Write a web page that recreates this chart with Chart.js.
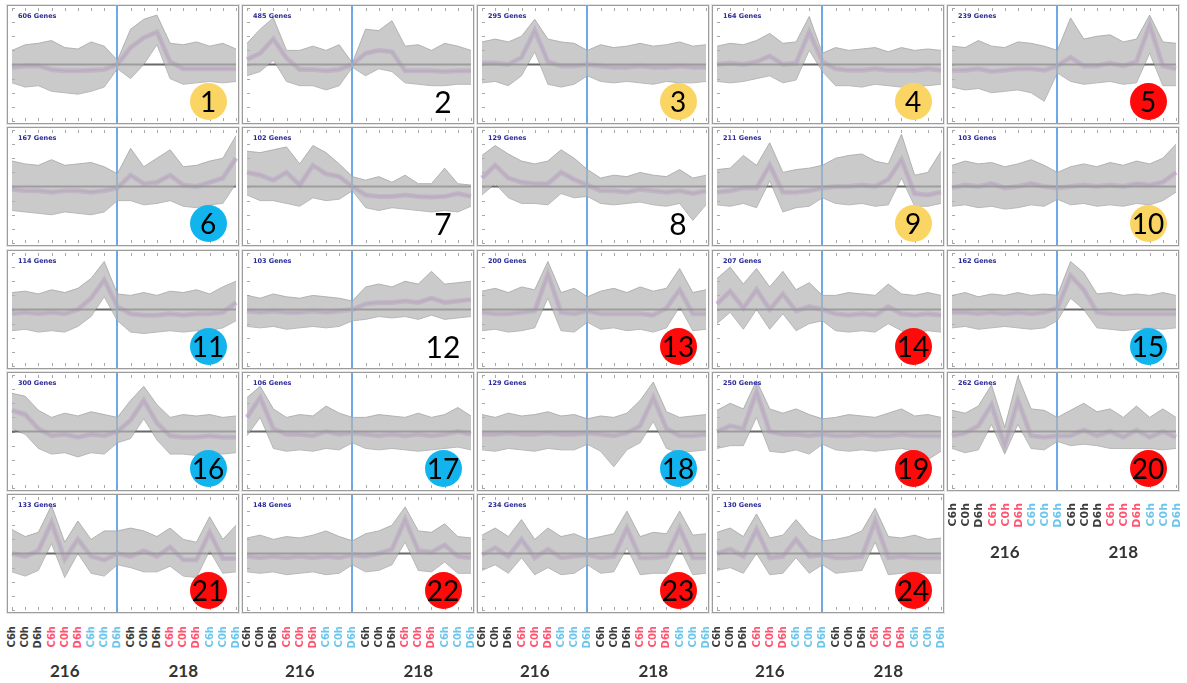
<!DOCTYPE html>
<html><head><meta charset="utf-8">
<script src="https://cdn.jsdelivr.net/npm/chart.js@4.4.1/dist/chart.umd.min.js"></script>
<style>
html,body{margin:0;padding:0;background:#fff;}
#root{position:relative;width:1187px;height:683px;overflow:hidden;background:#fff;}
.panel{position:absolute;border:1px solid #9c9c9c;box-shadow:0 0 0 1px #e4e4e4;background:#fff;}
.panel canvas{display:block;}
.badge{position:absolute;width:37px;height:37px;border-radius:50%;display:flex;align-items:center;justify-content:center;font-family:Lato,'Liberation Sans',sans-serif;font-size:28px;color:#000;line-height:1;}
.lbl{position:absolute;writing-mode:vertical-rl;transform:translateX(-50%) rotate(180deg);font-family:'DejaVu Sans',sans-serif;font-weight:bold;white-space:nowrap;line-height:1;}
.cult{position:absolute;transform:translateX(-50%);font-family:Lato,'Liberation Sans',sans-serif;font-weight:bold;font-size:17px;color:#333;}
</style></head><body><div id="root"></div>
<script>
// ---------------- DATA ----------------
const clusterIds = [1,2,3,4,5,6,7,8,9,10,11,12,13,14,15,16,17,18,19,20,21,22,23,24];
const geneCounts = [606,485,295,164,239,167,102,129,211,103,114,103,200,207,162,300,106,129,250,262,133,148,234,130];
const clusterClass = ['Y','-','Y','Y','R','B','-','-','Y','Y','B','-','R','R','B','B','B','B','R','R','R','R','R','R'];
const sampleLabels = ['C6h','C0h','D6h','C6h','C0h','D6h','C6h','C0h','D6h','C6h','C0h','D6h','C6h','C0h','D6h','C6h','C0h','D6h'];
const sampleGroup = [0,0,0,1,1,1,2,2,2,0,0,0,1,1,1,2,2,2];
const cultivars = ['216','218'];
const cultivarCenter = [4, 13];
const splitAt = 8;
const yTicks = [-4,-3,-2,-1,0,1,2,3,4];

const meanProfiles = [
 [-0.2,-0.1,-0.1,-0.35,-0.45,-0.45,-0.4,-0.35,0,1.2,1.9,2.3,0.2,-0.3,-0.3,-0.3,-0.3,-0.3],
 [0.35,0.8,1.8,0.45,-0.35,-0.35,-0.45,-0.35,0,0.8,1.0,0.9,-0.45,-0.45,-0.45,-0.5,-0.45,-0.45],
 [0.1,0.1,0,0.5,2.4,0.2,-0.1,-0.1,0,-0.1,-0.2,-0.2,-0.1,-0.2,-0.2,-0.1,-0.2,-0.2],
 [0,0.1,0,0.2,0.6,0,0.1,2.3,0.2,-0.3,-0.4,-0.4,-0.3,-0.4,-0.4,-0.4,-0.3,-0.4],
 [-0.4,-0.4,-0.3,-0.5,-0.4,-0.3,-0.3,-0.4,-0.1,0.5,-0.1,-0.1,0.1,-0.1,0.2,2.8,-0.1,-0.3],
 [-0.2,-0.3,-0.3,-0.4,-0.3,-0.3,-0.4,-0.3,-0.1,0.8,0.2,0.3,0.8,0.1,0.0,0.3,0.6,2.0],
 [1.0,0.8,0.45,1.0,0.1,1.5,0.9,0.7,0,-0.6,-0.7,-0.7,-0.6,-0.7,-0.75,-0.7,-0.5,-0.7],
 [0.6,1.5,0.6,0.3,0.2,0.2,1.0,0.5,0.1,-0.3,-0.3,-0.4,-0.2,-0.3,-0.4,-0.3,-0.5,-0.3],
 [-0.4,-0.3,-0.1,-0.1,1.5,-0.4,-0.4,-0.3,-0.1,0.0,0.0,0.1,0.0,0.5,1.9,-0.5,-0.6,-0.4],
 [-0.1,0.1,0,0.2,-0.1,0,0.2,0,-0.1,0,0.1,0,0.1,0,0.2,0.1,0.3,1.0],
 [-0.3,-0.2,-0.3,-0.2,-0.3,0,0.8,2.1,0.2,-0.3,-0.4,-0.4,-0.3,-0.4,-0.3,-0.3,-0.2,0.5],
 [-0.1,-0.2,-0.1,-0.2,-0.2,-0.1,-0.2,-0.1,0,0.4,0.5,0.5,0.6,0.5,0.8,0.5,0.6,0.7],
 [-0.2,-0.3,-0.3,-0.2,-0.1,2.5,-0.2,-0.3,-0.1,-0.3,-0.3,-0.3,-0.3,-0.4,0.1,1.4,-0.3,-0.3],
 [0.4,1.3,0.1,1.4,0.0,1.1,-0.1,0.2,0.0,-0.3,-0.4,-0.3,-0.4,0.2,-0.3,-0.4,-0.3,-0.4],
 [-0.2,-0.2,-0.3,-0.2,-0.3,-0.2,-0.3,-0.2,0.1,2.4,1.4,-0.2,-0.3,-0.3,-0.3,-0.3,-0.3,-0.3],
 [1.5,1.2,0.2,-0.3,-0.2,-0.4,-0.2,-0.3,0,0.8,2.2,0.6,-0.3,-0.4,-0.4,-0.3,-0.4,-0.4],
 [1.0,2.4,0.2,-0.2,-0.2,-0.3,0.0,-0.2,-0.1,-0.2,-0.3,-0.2,-0.3,-0.2,-0.3,-0.2,0.0,-0.2],
 [-0.2,-0.2,-0.1,-0.2,-0.2,-0.1,-0.2,-0.2,-0.1,-0.2,-0.3,-0.1,0.4,2.4,0.2,-0.3,-0.3,-0.2],
 [0.0,0.4,0.2,2.8,0.0,-0.2,-0.2,-0.3,-0.2,-0.3,-0.3,-0.2,-0.3,-0.3,-0.2,-0.3,-0.3,-0.3],
 [-0.3,-0.1,0.4,1.9,-1.0,2.2,-0.3,-0.4,-0.3,-0.3,0.1,-0.3,0.0,-0.4,0.1,-0.4,0.0,-0.4],
 [0.0,-0.2,0.2,2.2,-0.4,1.0,-0.2,-0.45,0.0,-0.2,0.2,-0.2,0.45,-0.45,-0.45,1.5,-0.35,-0.35],
 [-0.2,-0.3,-0.2,-0.3,-0.2,-0.3,-0.2,-0.3,-0.1,-0.2,0.0,0.3,2.4,0.2,0.1,0.6,-0.2,-0.3],
 [-0.1,0.4,-0.2,1.0,-0.3,0.3,-0.3,-0.2,-0.1,-0.3,-0.2,1.8,-0.3,-0.3,-0.2,1.8,-0.3,-0.3],
 [0.0,0.3,-0.2,1.7,-0.3,-0.2,1.0,-0.2,-0.1,-0.3,-0.3,-0.2,2.3,-0.3,-0.2,-0.3,-0.3,-0.3]
];
const upperProfiles = [
 [1.0,1.4,1.5,1.7,1.2,1.1,1.6,1.3,0.3,2.5,3.2,3.5,1.5,1.4,1.6,1.3,1.5,1.1],
 [1.5,2.5,3.3,1.0,1.0,1.3,1.0,1.4,0.1,2.5,2.4,3.1,1.3,1.4,1.0,1.5,1.3,1.0],
 [1.6,1.8,1.6,2.0,3.2,1.8,1.6,1.5,1.0,1.4,1.2,1.3,1.5,1.3,1.4,1.6,1.3,1.4],
 [1.3,1.5,1.4,1.7,2.2,1.5,1.6,3.4,0.8,1.2,1.0,1.1,1.2,0.9,1.2,1.0,1.1,1.0],
 [1.3,1.2,1.7,1.3,1.2,1.6,1.5,1.3,1.0,3.3,1.8,2.0,2.1,1.6,1.8,3.5,1.6,1.5],
 [1.8,1.6,1.5,1.9,1.5,1.6,1.7,1.4,0.9,2.7,1.4,2.0,2.6,1.4,1.5,1.8,2.0,3.6],
 [2.5,2.4,2.6,2.8,1.6,2.9,2.4,1.6,0.7,0.45,0.7,0.3,0.8,0.2,0.2,1.3,0.2,0.1],
 [2.2,2.9,2.3,1.8,1.6,1.8,2.6,2.0,1.2,0.6,0.8,0.7,1.0,0.8,0.7,1.2,0.6,0.8],
 [1.2,1.3,2.2,1.5,3.1,1.0,1.2,1.3,1.5,2.0,2.2,2.3,1.8,1.6,3.7,0.8,1.0,2.5],
 [1.5,1.8,1.6,1.7,1.4,1.6,1.9,1.5,1.0,1.4,1.6,1.4,1.7,1.5,1.8,1.6,2.0,3.0],
 [1.2,1.3,1.1,1.4,1.2,1.5,2.2,3.4,1.1,1.0,1.2,1.0,1.3,1.2,1.4,1.1,1.6,2.0],
 [1.0,0.8,1.1,0.9,0.8,1.0,0.9,0.8,0.6,1.6,1.8,1.6,2.0,1.8,2.7,1.8,1.9,2.0],
 [1.3,1.5,1.2,1.6,1.4,3.4,1.2,1.5,0.9,1.3,1.5,1.2,1.6,1.3,1.5,2.9,1.2,1.4],
 [2.2,3.0,1.8,2.9,1.6,2.7,1.4,1.9,1.0,1.0,1.2,1.1,1.0,1.8,1.1,1.0,1.2,1.0],
 [1.0,1.2,0.9,1.1,1.0,1.2,1.0,1.1,1.0,3.4,2.6,1.1,1.2,1.0,1.1,1.0,1.2,1.0],
 [2.7,2.5,1.5,1.0,1.3,1.1,1.4,1.2,1.0,2.2,3.2,1.9,1.0,1.2,1.1,1.2,1.0,1.1],
 [2.4,3.2,1.6,1.0,1.2,1.1,1.8,1.3,1.0,1.0,1.2,1.1,1.0,1.3,1.0,1.2,1.7,1.1],
 [1.2,1.0,1.3,1.1,1.2,1.4,1.1,1.2,0.9,1.1,1.0,1.3,2.2,3.5,1.4,1.0,1.1,1.2],
 [1.5,2.0,1.6,3.6,1.6,1.3,1.6,1.2,0.9,1.0,1.2,1.1,1.0,1.3,1.6,1.1,1.2,1.0],
 [1.5,1.3,1.8,3.3,0.3,3.9,1.6,1.5,1.0,1.5,2.0,1.4,1.6,1.0,1.8,1.0,1.6,1.0],
 [1.7,1.2,1.5,3.4,0.8,2.3,1.0,1.6,1.6,1.8,1.6,1.2,1.8,1.0,0.8,2.6,1.0,2.0],
 [1.1,1.3,1.0,1.2,1.1,1.3,1.6,1.2,0.9,1.4,1.6,2.0,3.3,1.6,1.5,2.1,1.2,1.1],
 [1.3,1.8,1.2,2.4,1.0,1.8,1.2,1.4,1.0,1.2,1.4,3.0,1.2,1.5,1.4,3.0,1.3,1.4],
 [1.5,1.8,1.2,2.8,1.1,1.3,2.4,1.3,0.9,1.0,1.2,1.6,3.2,1.2,1.1,1.3,1.0,1.1]
];
const lowerProfiles = [
 [-1.3,-1.6,-1.5,-1.9,-2.0,-2.1,-1.9,-1.6,-0.3,-1.0,0.0,1.4,-1.0,-1.4,-1.3,-1.2,-1.3,-1.2],
 [-0.8,-0.5,0.3,-1.2,-1.5,-1.5,-1.8,-1.5,-0.2,-0.8,-0.3,-0.5,-1.3,-1.4,-1.5,-1.5,-1.4,-1.4],
 [-1.3,-1.2,-1.5,-0.8,0.9,-1.4,-1.6,-1.4,-0.8,-1.2,-1.3,-1.2,-1.3,-1.4,-1.2,-1.3,-1.3,-1.2],
 [-1.2,-1.3,-1.2,-1.0,-0.8,-1.3,-1.1,1.0,-0.5,-1.5,-1.5,-1.6,-1.4,-1.5,-1.6,-1.5,-1.5,-1.4],
 [-1.6,-1.8,-1.7,-2.0,-1.9,-1.8,-2.0,-2.6,-0.6,-1.2,-1.4,-1.3,-1.2,-1.4,-1.3,0.8,-1.5,-1.5],
 [-1.7,-1.8,-1.9,-2.0,-1.8,-1.9,-2.0,-1.8,-1.0,-1.0,-1.3,-1.2,-1.0,-1.4,-1.5,-1.3,-1.2,0.2],
 [-0.6,-1.0,-1.0,-1.2,-1.4,-0.8,-1.0,-0.9,-0.3,-1.5,-1.7,-1.5,-1.6,-1.7,-1.8,-1.7,-1.8,-1.4],
 [-0.6,0.2,-0.8,-1.2,-1.2,-1.3,-0.5,-0.8,-0.7,-1.2,-1.3,-1.2,-1.1,-1.3,-1.4,-1.2,-2.4,-1.3],
 [-1.3,-1.4,-1.2,-1.5,0.4,-1.8,-1.5,-1.4,-0.8,-1.2,-1.3,-1.2,-1.4,-1.3,0.6,-1.4,-1.4,-1.2],
 [-1.4,-1.3,-1.5,-1.4,-1.6,-1.5,-1.3,-1.4,-0.9,-1.3,-1.2,-1.4,-1.3,-1.4,-1.2,-1.3,-1.0,-0.4],
 [-1.5,-1.4,-1.6,-1.5,-1.6,-1.2,-0.5,0.9,-0.8,-1.6,-1.7,-1.6,-1.5,-1.6,-1.5,-1.5,-1.3,-0.8],
 [-1.2,-1.3,-1.2,-1.4,-1.3,-1.2,-1.3,-1.2,-0.8,-0.7,-0.5,-0.6,-0.5,-0.7,-0.4,-0.7,-0.6,-0.5],
 [-1.5,-1.4,-1.6,-1.5,-1.3,0.8,-1.5,-1.6,-0.9,-1.4,-1.3,-1.5,-1.4,-1.6,-1.3,0.2,-1.5,-1.4],
 [-1.0,-0.2,-1.4,0.0,-1.4,-0.3,-1.5,-1.0,-0.8,-1.5,-1.6,-1.5,-1.6,-1.0,-1.5,-1.6,-1.5,-1.6],
 [-1.3,-1.2,-1.4,-1.3,-1.2,-1.3,-1.4,-1.3,-0.8,0.8,0.0,-1.3,-1.4,-1.5,-1.4,-1.3,-1.4,-1.3],
 [0.2,-0.2,-1.2,-1.6,-1.5,-1.8,-1.5,-1.6,-0.8,-0.5,0.9,-0.6,-1.6,-1.6,-1.7,-1.5,-1.6,-1.5],
 [-0.3,1.0,-1.2,-1.4,-1.3,-1.4,-1.2,-1.3,-0.8,-1.2,-1.3,-1.2,-1.3,-1.4,-1.3,-1.2,-1.1,-1.3],
 [-1.3,-1.4,-1.2,-1.3,-1.4,-1.2,-1.3,-1.3,-0.9,-1.4,-2.5,-1.3,-0.8,0.7,-1.2,-1.5,-1.4,-1.3],
 [-1.2,-1.0,-1.0,1.0,-1.4,-1.5,-1.3,-1.6,-0.9,-1.3,-1.4,-1.3,-1.4,-1.3,-1.2,-1.4,-2.0,-1.4],
 [-1.2,-1.5,-1.3,0.5,-1.6,0.5,-1.2,-1.3,-0.7,-1.0,-0.9,-1.0,-1.2,-1.2,-1.2,-1.2,-1.3,-1.2],
 [-1.3,-1.6,-1.2,0.7,-1.7,0.0,-1.4,-1.6,-0.8,-1.0,-1.3,-1.3,-0.9,-1.6,-1.7,0.2,-1.4,-1.3],
 [-1.3,-1.4,-1.3,-1.5,-1.4,-1.3,-1.5,-1.4,-0.8,-1.3,-1.2,-0.8,0.8,-1.2,-1.3,-0.6,-1.4,-1.4],
 [-1.2,-0.8,-1.4,-0.3,-1.5,-1.0,-1.5,-1.4,-0.8,-1.4,-1.3,0.4,-1.5,-1.4,-1.4,0.4,-1.5,-1.4],
 [-1.2,-1.0,-1.4,0.0,-1.5,-1.4,-0.3,-1.4,-0.8,-1.4,-1.3,-1.2,0.8,-1.5,-1.4,-1.3,-1.4,-1.4]
];

// ---------------- LAYOUT / STYLE ----------------
const colX = [8, 243, 478, 713, 948];
const rowY = [6, 128, 251, 373, 495];
const PW = 230, PH = 117;
const badgeFill = {Y:'#FAD564', R:'#FF0A0A', B:'#12B4EE', '-':'transparent'};
const groupColor = ['#3c3c3c', '#ff5470', '#6cc6ec'];
const root = document.getElementById('root');

const decor = {
  id: 'decor',
  beforeDatasetsDraw(chart) {
    const {ctx, chartArea: a, scales: {x, y}} = chart;
    ctx.save();
    ctx.strokeStyle = '#a8a8a8'; ctx.lineWidth = 1;
    ctx.beginPath();
    for (let i = 0; i < sampleLabels.length; i++) {
      const px = Math.round(x.getPixelForValue(i)) + 0.5;
      ctx.moveTo(px, a.bottom); ctx.lineTo(px, a.bottom - 3);
      ctx.moveTo(px, a.top); ctx.lineTo(px, a.top + 3);
    }
    yTicks.forEach(v => {
      const py = Math.round(y.getPixelForValue(v)) + 0.5;
      ctx.moveTo(a.left, py); ctx.lineTo(a.left + 3, py);
    });
    ctx.stroke();
    ctx.restore();
  },
  afterDatasetDraw(chart, args) {
    if (args.index !== 1) return;
    const {ctx, chartArea: a, scales: {x, y}} = chart;
    ctx.save();
    const y0 = y.getPixelForValue(0);
    ctx.strokeStyle = 'rgba(80,80,80,0.85)'; ctx.lineWidth = 1.8;
    ctx.beginPath(); ctx.moveTo(a.left, y0); ctx.lineTo(a.right, y0); ctx.stroke();
    const xv = Math.round(x.getPixelForValue(splitAt));
    ctx.strokeStyle = 'rgba(95,160,228,0.9)'; ctx.lineWidth = 2;
    ctx.beginPath(); ctx.moveTo(xv, 0); ctx.lineTo(xv, chart.height); ctx.stroke();
    ctx.restore();
  },
  afterDraw(chart) {
    const {ctx, chartArea: a} = chart;
    ctx.save();
    ctx.fillStyle = '#2a2a9a';
    ctx.font = 'bold 6.5px "DejaVu Sans", sans-serif';
    ctx.textBaseline = 'middle';
    ctx.fillText(chart.options.plugins.decor.title, a.left + 6, a.top + 8);
    ctx.restore();
  }
};

const charts = [];
clusterIds.forEach((id, k) => {
  const col = k % 5, row = Math.floor(k / 5);
  const left = colX[col], top = rowY[row];
  const div = document.createElement('div');
  div.className = 'panel';
  div.style.left = (left - 1) + 'px';
  div.style.top = (top - 1) + 'px';
  div.style.width = PW + 'px';
  div.style.height = PH + 'px';
  const cv = document.createElement('canvas');
  cv.width = PW; cv.height = PH;
  cv.style.width = PW + 'px'; cv.style.height = PH + 'px';
  div.appendChild(cv);
  root.appendChild(div);

  const ch = new Chart(cv.getContext('2d'), {
    type: 'line',
    data: {
      labels: sampleLabels,
      datasets: [
        {data: upperProfiles[k], borderColor: 'rgba(165,165,165,0.8)', borderWidth: 1,
         backgroundColor: 'rgba(180,180,180,0.7)', fill: '+1', pointRadius: 0, tension: 0},
        {data: lowerProfiles[k], borderColor: 'rgba(170,170,170,0.8)', borderWidth: 1,
         fill: false, pointRadius: 0, tension: 0},
        {data: meanProfiles[k], borderColor: 'rgba(210,165,228,0.75)', borderWidth: 5,
         fill: false, pointRadius: 0, tension: 0},
        {data: meanProfiles[k], borderColor: '#b77ed2', borderWidth: 1.6,
         fill: false, pointRadius: 0, tension: 0}
      ]
    },
    options: {
      responsive: false, animation: false, devicePixelRatio: 1,
      layout: {padding: {left: 4, right: 2, top: 2, bottom: 2}},
      scales: {
        x: {type: 'category', display: false, offset: false},
        y: {display: false, min: -4, max: 4}
      },
      plugins: {legend: {display: false}, tooltip: {enabled: false},
                decor: {title: geneCounts[k] + ' Genes'}}
    },
    plugins: [decor]
  });
  charts.push(ch);

  const b = document.createElement('div');
  b.className = 'badge';
  b.style.left = (left + PW - 30 - 18.5) + 'px';
  b.style.top = (top + 95 - 18.5) + 'px';
  b.style.background = badgeFill[clusterClass[k]];
  if (clusterClass[k] === '-') b.style.fontSize = '30px';
  b.textContent = id;
  root.appendChild(b);
});

// sample labels below panel 20 and panels 21-24
function addLabels(k, labelTop, fontSize, cultTop) {
  const col = k % 5;
  const ch = charts[k];
  const x = ch.scales.x;
  const left = colX[col];
  sampleLabels.forEach((t, i) => {
    const s = document.createElement('div');
    s.className = 'lbl';
    s.style.fontSize = fontSize + 'px';
    s.style.color = groupColor[sampleGroup[i]];
    s.style.left = (left + x.getPixelForValue(i)) + 'px';
    s.style.top = labelTop + 'px';
    s.textContent = t;
    root.appendChild(s);
  });
  cultivars.forEach((c, j) => {
    const d = document.createElement('div');
    d.className = 'cult';
    d.style.left = (left + x.getPixelForValue(cultivarCenter[j])) + 'px';
    d.style.top = cultTop + 'px';
    d.textContent = c;
    root.appendChild(d);
  });
}
addLabels(19, 503, 11, 541);
[20, 21, 22, 23].forEach(k => addLabels(k, 626, 10, 660));
</script>
</body></html>
